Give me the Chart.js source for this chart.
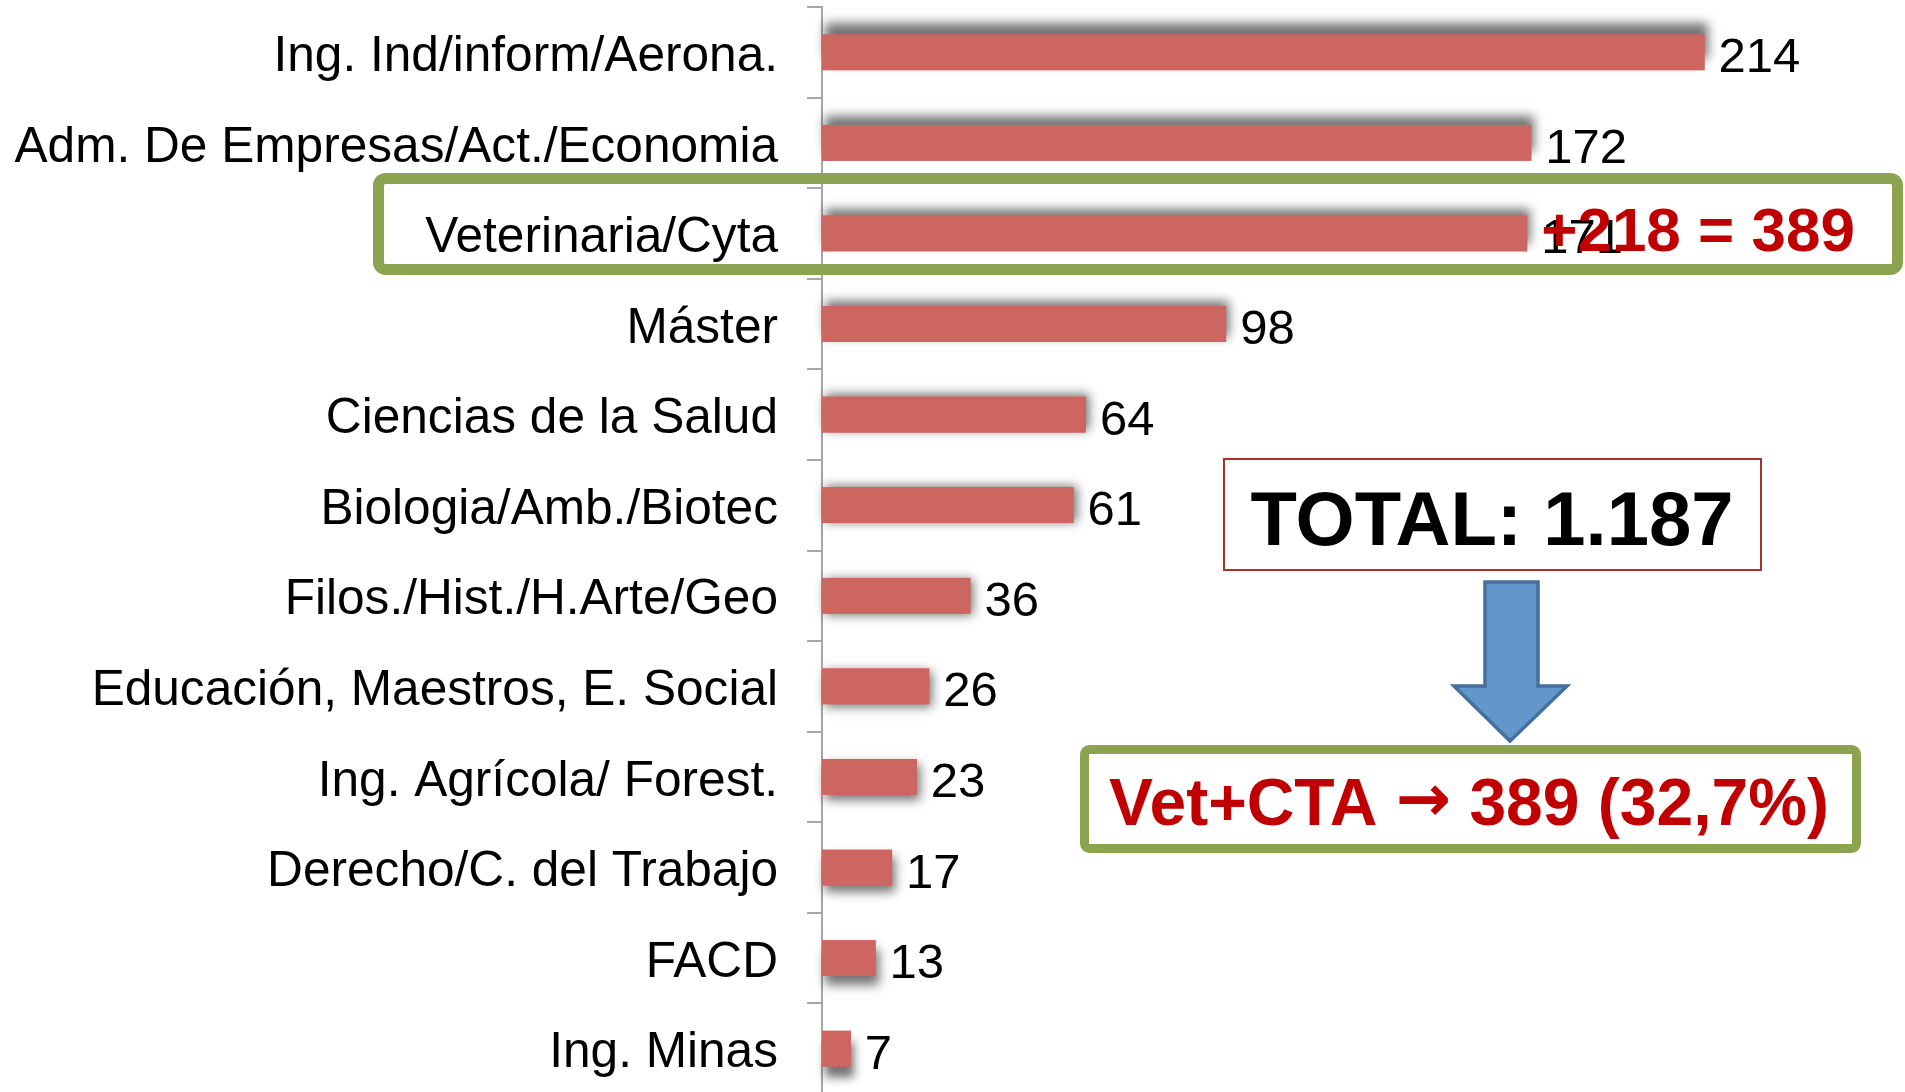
<!DOCTYPE html>
<html>
<head>
<meta charset="utf-8">
<title>Alumnos por titulación</title>
<script src="https://cdn.jsdelivr.net/npm/chart.js@4.4.1/dist/chart.umd.min.js"></script>
<style>
  html, body { margin: 0; padding: 0; background: #ffffff; overflow: hidden; }
  #wrap { width: 1905px; height: 1094px; }
</style>
</head>
<body>
<div id="wrap"><canvas id="myChart" width="1905" height="1094"></canvas></div>
<script>
// categories (top to bottom) and their values
var categories = [
  "Ing. Ind/inform/Aerona.",
  "Adm. De Empresas/Act./Economia",
  "Veterinaria/Cyta",
  "Máster",
  "Ciencias de la Salud",
  "Biologia/Amb./Biotec",
  "Filos./Hist./H.Arte/Geo",
  "Educación, Maestros, E. Social",
  "Ing. Agrícola/ Forest.",
  "Derecho/C. del Trabajo",
  "FACD",
  "Ing. Minas"
];
var values = [214, 172, 171, 98, 64, 61, 36, 26, 23, 17, 13, 7];

// highlighted row and the extra notes
var vetIndex = 2;
var vetNote = "+218 = 389";
var totalText = "TOTAL: 1.187";
var summaryParts = ["Vet+CTA ", "\u2192", " 389 (32,7%)"];

var barColor = "#CD6660";
var green = "#8CA34F";
var darkRed = "#C00000";
var fontFamily = "'Liberation Sans', Arial, sans-serif";

// soft shadow under each bar, tilting from above (top rows) to below (bottom rows)
var barShadows = {
  id: "barShadows",
  beforeDatasetsDraw: function (chart) {
    var ctx = chart.ctx;
    var meta = chart.getDatasetMeta(0);
    var n = meta.data.length;
    meta.data.forEach(function (bar, i) {
      var p = bar.getProps(["x", "y", "base", "height"], true);
      ctx.save();
      ctx.shadowColor = "rgba(0,0,0,0.55)";
      ctx.shadowBlur = 10;
      ctx.shadowOffsetX = 3;
      ctx.shadowOffsetY = -11 + (22 * i) / (n - 1);
      ctx.fillStyle = barColor;
      ctx.fillRect(p.base, p.y - p.height / 2, p.x - p.base, p.height);
      ctx.restore();
    });
  }
};

// value labels at the bar ends, plus the red note on the Veterinaria row
var valueLabels = {
  id: "valueLabels",
  afterDatasetsDraw: function (chart) {
    var ctx = chart.ctx;
    var meta = chart.getDatasetMeta(0);
    ctx.save();
    ctx.textAlign = "left";
    ctx.textBaseline = "alphabetic";
    ctx.fillStyle = "#000000";
    ctx.font = "49px " + fontFamily;
    meta.data.forEach(function (bar, i) {
      ctx.fillText(String(values[i]), bar.x + 14, bar.y + 20);
    });
    var vet = meta.data[vetIndex];
    ctx.fillStyle = darkRed;
    ctx.font = "bold 62px " + fontFamily;
    ctx.fillText(vetNote, vet.x + 14, vet.y + 18);
    ctx.restore();
  }
};

// boxes and arrow on top of the chart
var notes = {
  id: "notes",
  afterDraw: function (chart) {
    var ctx = chart.ctx;
    var yc = chart.scales.y.getPixelForValue(vetIndex);
    ctx.save();

    // green frame around the Veterinaria row
    ctx.strokeStyle = green;
    ctx.lineWidth = 11;
    ctx.beginPath();
    ctx.roundRect(378.5, yc - 55, 1519, 91, 7);
    ctx.stroke();

    // TOTAL box
    ctx.strokeStyle = "#A8322C";
    ctx.lineWidth = 2;
    ctx.strokeRect(1224, 459, 537, 111);
    ctx.fillStyle = "#000000";
    ctx.font = "bold 76px " + fontFamily;
    ctx.textAlign = "center";
    ctx.textBaseline = "alphabetic";
    ctx.fillText(totalText, 1492, 545);

    // blue down arrow
    ctx.beginPath();
    ctx.moveTo(1485, 582);
    ctx.lineTo(1538, 582);
    ctx.lineTo(1538, 686);
    ctx.lineTo(1567, 686);
    ctx.lineTo(1510, 741);
    ctx.lineTo(1454, 686);
    ctx.lineTo(1485, 686);
    ctx.closePath();
    ctx.fillStyle = "#6397CB";
    ctx.fill();
    ctx.strokeStyle = "#44709D";
    ctx.lineWidth = 3.5;
    ctx.lineJoin = "miter";
    ctx.stroke();

    // summary box
    ctx.strokeStyle = green;
    ctx.lineWidth = 9;
    ctx.beginPath();
    ctx.roundRect(1084.5, 749.5, 772, 99, 5);
    ctx.stroke();

    // summary text, arrow glyph in a font with a bolder arrow
    var fonts = [
      "bold 66px " + fontFamily,
      "bold 66px 'DejaVu Sans', sans-serif",
      "bold 66px " + fontFamily
    ];
    var widths = summaryParts.map(function (t, i) {
      ctx.font = fonts[i];
      return ctx.measureText(t).width;
    });
    var total = widths.reduce(function (a, b) { return a + b; }, 0);
    var x = 1469 - total / 2;
    ctx.textAlign = "left";
    ctx.fillStyle = darkRed;
    summaryParts.forEach(function (t, i) {
      ctx.font = fonts[i];
      ctx.fillText(t, x, i === 1 ? 821 : 825);
      x += widths[i];
    });

    ctx.restore();
  }
};

var ctx_chart = document.getElementById("myChart");

var myChart = new Chart(ctx_chart, {
  type: "bar",
  data: {
    labels: categories,
    datasets: [
      {
        data: values,
        backgroundColor: barColor,
        borderWidth: 0,
        barPercentage: 0.395,
        categoryPercentage: 1.0
      }
    ]
  },
  options: {
    indexAxis: "y",
    responsive: false,
    animation: false,
    layout: {
      padding: { top: 7, right: 52, bottom: 0, left: 0 }
    },
    plugins: {
      legend: { display: false },
      tooltip: { enabled: false }
    },
    scales: {
      x: {
        display: false,
        min: 0,
        max: 250
      },
      y: {
        grid: {
          drawOnChartArea: false,
          drawTicks: true,
          tickLength: 15,
          color: "#A6A6A6",
          lineWidth: 2
        },
        border: {
          display: true,
          color: "#A6A6A6",
          width: 2
        },
        ticks: {
          color: "#000000",
          padding: 29,
          labelOffset: 5,
          font: { family: "'Liberation Sans', Arial, sans-serif", size: 49.6 }
        },
        afterFit: function (scale) {
          scale.width = 822;
          scale.paddingTop = 0;
          scale.paddingBottom = 0;
        }
      }
    }
  },
  plugins: [barShadows, valueLabels, notes]
});
</script>
</body>
</html>
